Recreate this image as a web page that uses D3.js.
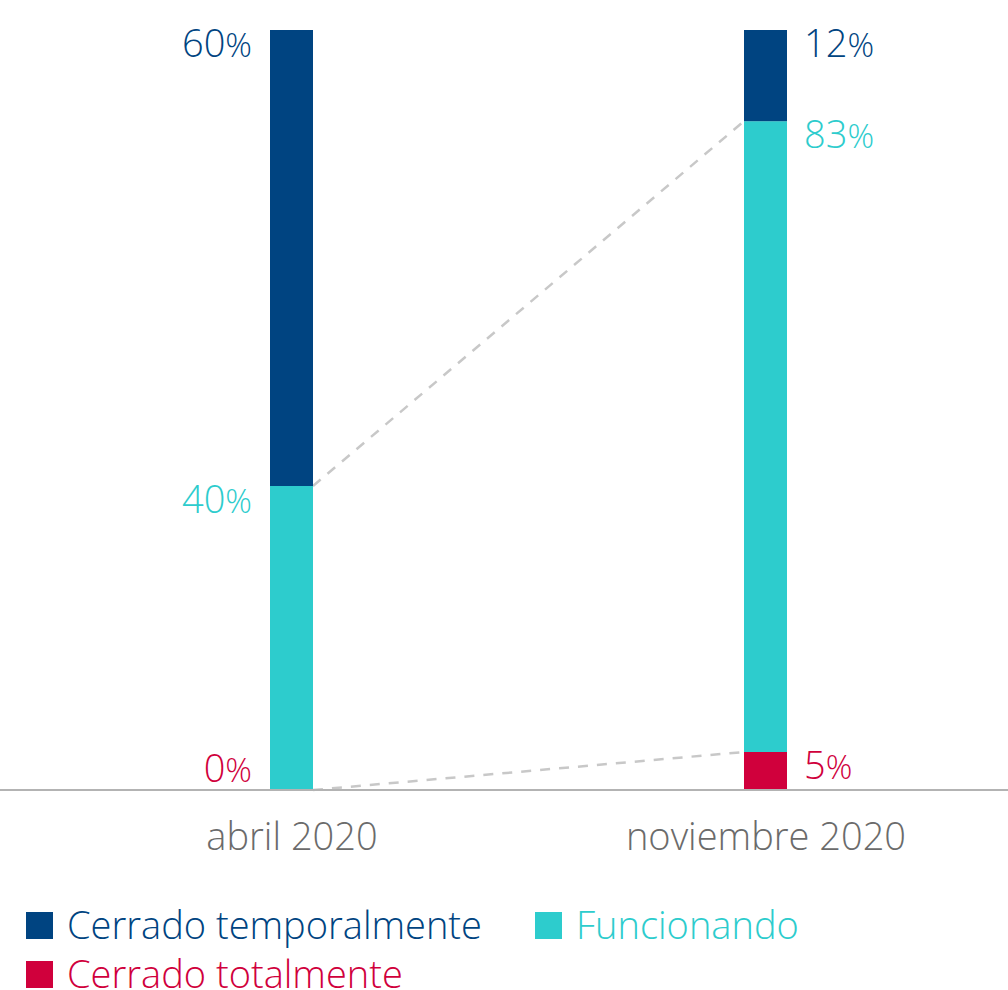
<!DOCTYPE html>
<html>
<head>
<meta charset="utf-8">
<script src="https://cdn.jsdelivr.net/npm/d3@7"></script>
<style>
  html, body { margin: 0; padding: 0; background: #fff; }
  svg { display: block; }
  text { font-family: "Open Sans", Lato, sans-serif; font-weight: 300; }
</style>
</head>
<body>
<svg id="chart" width="1008" height="990"></svg>
<script>
// Periods shown on the x axis
const periods = ["abril 2020", "noviembre 2020"];
// Status series, stacked bottom to top
const seriesKeys = ["Cerrado totalmente", "Funcionando", "Cerrado temporalmente"];
const cerradoTotalmente = [0, 5];
const funcionando = [40, 83];
const cerradoTemporalmente = [60, 12];
const colors = ["#d0003c", "#2dcccd", "#004481"];
// Legend order
const legendOrder = ["Cerrado temporalmente", "Funcionando", "Cerrado totalmente"];

const svg = d3.select("#chart");
const W = 1008;
const baseY = 790, topY = 30;
const barW = 43;
const fontMain = "38px";

const rows = periods.map((p, i) => ({
  period: p,
  "Cerrado totalmente": cerradoTotalmente[i],
  "Funcionando": funcionando[i],
  "Cerrado temporalmente": cerradoTemporalmente[i]
}));

const stacked = d3.stack().keys(seriesKeys)(rows);

const x = d3.scalePoint().domain(periods).range([54.5, 1002.5]).padding(0.5);
const y = d3.scaleLinear().domain([0, 100]).range([baseY, topY]);
const color = d3.scaleOrdinal().domain(seriesKeys).range(colors);

// Dashed connectors between segment tops
const connectKeys = ["Cerrado totalmente", "Funcionando"];
connectKeys.forEach(k => {
  const layer = stacked.find(s => s.key === k);
  svg.append("line")
    .attr("x1", x(periods[0]) + barW / 2)
    .attr("y1", y(layer[0][1]))
    .attr("x2", x(periods[1]) - barW / 2)
    .attr("y2", y(layer[1][1]))
    .attr("stroke", "#c8c8c8")
    .attr("stroke-width", 2.5)
    .attr("stroke-dasharray", "10,9");
});

// Bars
svg.append("g").selectAll("g")
  .data(stacked)
  .join("g")
  .attr("fill", d => color(d.key))
  .selectAll("rect")
  .data(d => d)
  .join("rect")
  .attr("x", d => x(d.data.period) - barW / 2)
  .attr("y", d => y(d[1]))
  .attr("width", barW)
  .attr("height", d => y(d[0]) - y(d[1]));

// Baseline axis
const xAxis = d3.axisBottom(x).tickSize(0).tickPadding(33);
const ax = svg.append("g").attr("transform", `translate(0,${baseY})`).call(xAxis);
ax.select(".domain").remove();
ax.selectAll("text")
  .attr("fill", "#6b6b6b")
  .style("font-size", fontMain)
  .style("font-family", "'Open Sans', sans-serif")
  .style("font-weight", 300);
svg.append("line")
  .attr("x1", 0).attr("x2", W)
  .attr("y1", baseY).attr("y2", baseY)
  .attr("stroke", "#b3b3b3").attr("stroke-width", 2);

// Value labels: left of the first bar, right of the second,
// cap-aligned with the top of each segment
stacked.forEach(layer => {
  layer.forEach((d, i) => {
    const val = d[1] - d[0];
    const baseline = Math.min(y(d[1]) + 27, baseY - 8);
    const left = i === 0;
    const t = svg.append("text")
      .attr("x", left ? x(d.data.period) - barW / 2 - 18 : x(d.data.period) + barW / 2 + 17)
      .attr("y", baseline)
      .attr("text-anchor", left ? "end" : "start")
      .attr("fill", color(layer.key))
      .style("font-size", fontMain);
    t.append("tspan").text(val);
    t.append("tspan").style("font-size", "33px").text("%");
  });
});

// Legend
const legendPos = [
  { x: 26, y: 912 },
  { x: 535, y: 912 },
  { x: 26, y: 961 }
];
legendOrder.forEach((k, i) => {
  const g = svg.append("g").attr("transform", `translate(${legendPos[i].x},${legendPos[i].y})`);
  g.append("rect").attr("width", 27).attr("height", 27).attr("fill", color(k));
  g.append("text")
    .attr("x", 41).attr("y", 27)
    .attr("fill", color(k))
    .style("font-size", fontMain)
    .text(k);
});
</script>
</body>
</html>
